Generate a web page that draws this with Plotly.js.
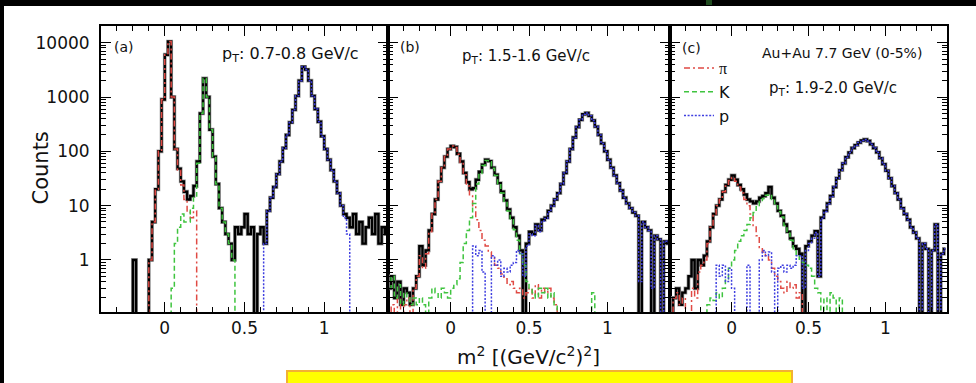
<!DOCTYPE html>
<html>
<head>
<meta charset="utf-8">
<script src="https://cdn.plot.ly/plotly-3.0.1.min.js"></script>
<style>html,body{margin:0;padding:0;background:#fff;}#chart{width:976px;height:383px;}</style>
</head>
<body>
<div id="chart"></div>
<script>
// m^2 histogram binning (GeV/c^2)^2
const BIN_FIRST_CENTER = -0.39;
const BIN_WIDTH = 0.02;
const N_BINS = 90;

// Panel (a): pT 0.7-0.8 GeV/c
const aCounts = [
  0,0,0,0,0,0,0,0,0,0,
  1,0,0,0,0,1,5,20,100,900,
  6000,10500,1000,110,48,28,18,13,15,23,
  65,500,2200,1000,250,80,25,9,5,3,
  2,1,4,3,4,7,3,4,0,3,
  4,2,8,14,22,38,65,115,200,340,
  580,1050,2000,3600,3200,2000,1050,600,350,190,
  110,70,45,28,17,10,7,6,4,7,
  3,5,2,4,6,3,7,2,4,3];
const aPi = [
  0,0,0,0,0,0,0,0,0,0,
  0,0,0,0,0,1,5,20,100,900,
  6000,10500,1000,110,45,24,13,8,6,8,
  0,0,0,0,0,0,0,0,0,0,
  0,0,0,0,0,0,0,0,0,0,
  0,0,0,0,0,0,0,0,0,0,
  0,0,0,0,0,0,0,0,0,0,
  0,0,0,0,0,0,0,0,0,0,
  0,0,0,0,0,0,0,0,0,0];
const aK = [
  0,0,0,0,0,0,0,0,0,0,
  0,0,0,0,0,0,0,0,0,0,
  0,0,0.3,2,4,7,5,5,9,15,
  60,500,2200,1000,250,80,25,9,5,3,
  2,1,0,0,0,0,0,0,0,0,
  0,0,0,0,0,0,0,0,0,0,
  0,0,0,0,0,0,0,0,0,0,
  0,0,0,0,0,0,0,0,0,0,
  0,0,0,0,0,0,0,0,0,0];
const aP = [
  0,0,0,0,0,0,0,0,0,0,
  0,0,0,0,0,0,0,0,0,0,
  0,0,0,0,0,0,0,0,0,0,
  0,0,0,0,0,0,0,0,0,0,
  0,0,0,0,0,0,0,0,0,0,
  0,2,8,14,22,38,65,115,200,340,
  580,1050,2000,3600,3200,2000,1050,600,350,190,
  110,70,45,28,17,10,6,3,0,0,
  0,0,0,0,0,0,0,0,0,0];

// Panel (b): pT 1.5-1.6 GeV/c
const bCounts = [
  0.3,0.5,0.2,0.4,0.15,0.3,0.25,0.15,0.3,0.5,
  1.8,0.8,1.5,3.5,7,13,28,50,80,110,
  125,120,90,65,40,27,20,21,30,42,
  57,70,66,50,37,26,18,12.5,8.5,6,
  4,2.8,1.5,0,2,3.3,3,4.5,3.5,5.5,
  6,8,10,13,17,25,40,65,110,180,
  280,380,480,510,450,370,285,200,140,100,
  70,50,36,26,19,14,11,9,7.5,6.5,
  0,5,4,3.5,0,2.8,2.4,0,2.2,2];
const bPi = [
  0,0.15,0,0.2,0,0.15,0.2,0,0.3,0.5,
  1.2,0.7,1.3,3.3,7,13,28,50,80,110,
  125,118,88,62,37,23,15,10,5.5,3.5,
  2.3,1.8,1.4,1.1,0.8,0.7,0.55,0.45,0.35,0.4,
  0.3,0.25,0.3,0.2,0.25,0.3,0.2,0.35,0.2,0.3,
  0.25,0.3,0.2,0.15,0,0,0,0,0,0,
  0,0,0,0,0,0,0,0,0,0,
  0,0,0,0,0,0,0,0,0,0,
  0,0,0,0,0,0,0,0,0,0];
const bK = [
  0.3,0.5,0.2,0.35,0.15,0.25,0.2,0.15,0.2,0.15,
  0.2,0.15,0,0.2,0.3,0.25,0.2,0.3,0.25,0.2,
  0.3,0.35,0.45,0.9,2,3.5,6,11,25,39,
  55,68,64,49,36,25,17,12,8,5.5,
  3.6,2.3,1.3,0.8,0.4,0.3,0.25,0.2,0.3,0.25,
  0.3,0.2,0.25,0.15,0,0,0,0,0,0,
  0,0,0,0,0,0.25,0,0,0,0,
  0,0,0,0,0,0,0,0,0,0,
  0,0,0,0,0,0,0,0,0,0];
const bP = [
  0,0,0,0,0,0,0,0,0,0,
  0,0,0,0,0,0,0,0,0,0,
  0,0,0,0,0,0,0,1.8,1.2,1.5,
  0.6,0,0,1.2,0.8,1,0.5,0.7,0.6,0.8,
  0.9,1.5,1.3,0.5,1.8,3,2.8,4.3,3.3,5.2,
  5.8,7.7,9.8,12.8,17,25,40,65,110,180,
  280,380,480,510,450,370,285,200,140,100,
  70,50,36,26,19,14,11,9,7.5,6.5,
  0.4,5,4,3.5,0.3,2.8,2.4,0,2.2,2];

// Panel (c): pT 1.9-2.0 GeV/c
const cCounts = [
  0,0.2,0.3,0.15,0.25,0.3,0.5,1,0.3,1,
  0.8,1.2,2.2,4,7,10,13,18,24,30,
  36,30,24,20,16,13,12,11,12,14,
  15,17,22,14,11,8,6.5,4.5,3.3,2.5,
  1.8,1.6,1.3,0,1.8,2.2,2.8,3.4,0.5,6,
  8,11,15,22,32,45,60,78,95,115,
  130,145,158,165,155,135,115,96,75,58,
  44,32,23,17,13,9,7,5.5,4,3.2,
  2.5,0,2,1.6,0,1.5,4.5,0,1.3,1.6];
const cPi = [
  0,0.2,0.25,0.15,0.2,0,0,0.3,0.2,0.6,
  0.8,1,2,4,7,10,13,18,23,29,
  33,28,22,17,13,10,7,4.3,2.8,1.7,
  1.4,1.2,1,0.7,0.5,0.4,0.3,0.25,0.4,0.3,
  0.35,0.2,0.25,0,0,0,0,0,0,0,
  0,0,0,0,0,0,0,0,0,0,
  0,0,0,0,0,0,0,0,0,0,
  0,0,0,0,0,0,0,0,0,0,
  0,0,0,0,0,0,0,0,0,0];
const cK = [
  0,0,0,0,0,0,0,0,0,0,
  0,0,0.15,0.2,0.18,0.25,0.2,0.3,0.45,0.7,
  1,1.5,2.2,2.8,3.5,4.5,6,7.5,9.5,12,
  13.5,15.5,16,13,10,7.8,6.2,4.3,3.1,2.3,
  1.6,1.2,1,0.9,0.8,0.7,0.5,0.3,0.25,0,
  0.2,0,0.25,0.2,0,0.2,0,0,0,0,
  0,0,0,0,0,0,0,0,0,0,
  0,0,0,0,0,0,0,0,0,0,
  0,0,0,0,0,0,0,0,0,0];
const cP = [
  0,0,0,0,0,0,0,0,0,0,
  0,0,0,0,0,0.8,0.5,0.8,0.4,0.7,
  0.3,0,0,0,0,0.8,0,0,0,1,
  1.5,1.2,1.4,0.6,0,0.7,0.8,0.6,0.8,0.7,
  0.8,1.2,1.2,0.3,1.5,2,2.5,3.2,0.5,5.8,
  7.8,10.8,14.8,22,32,45,60,78,95,115,
  130,145,158,165,155,135,115,96,75,58,
  44,32,23,17,13,9,7,5.5,4,3.2,
  2.5,0,2,1.6,0,1.5,4.5,0,1.3,1.6];

const panelLabels = ['(a)', '(b)', '(c)'];
const ptLabels = ['p<sub>T</sub>: 0.7-0.8 GeV/c', 'p<sub>T</sub>: 1.5-1.6 GeV/c', 'p<sub>T</sub>: 1.9-2.0 GeV/c'];
const speciesNames = ['<span style="font-family:Liberation Serif">π</span>', 'K', 'p'];
const systemLabel = 'Au+Au 7.7 GeV (0-5%)';
const yTickVals = [1, 10, 100, 1000, 10000];

// ---------- drawing ----------
const FONT = 'DejaVu Sans, Verdana, sans-serif';
const W = 976, H = 383;
const px = v => v / W, py = v => 1 - v / H;
const EMPTY = 1e-3; // empty bins drawn below the visible floor of the log axis
const centers = Array.from({length: N_BINS}, (_, i) => +(BIN_FIRST_CENTER + i * BIN_WIDTH).toFixed(3));
const vis = arr => arr.map(v => (v > 0 ? v : EMPTY));

const panels = [
  {counts: aCounts, fits: [aPi, aK, aP]},
  {counts: bCounts, fits: [bPi, bK, bP]},
  {counts: cCounts, fits: [cPi, cK, cP]}
];
const fitStyles = [
  {color: '#e04a44', dash: '6px,3px,2px,3px'},
  {color: '#3fc43f', dash: '5px,3px'},
  {color: '#3f3fe0', dash: '2px,1.6px'}
];
const xDomains = [[101, 388], [388, 670], [670, 947]];
const yDomain = [py(312), py(26)];

const traces = [];
panels.forEach((pn, k) => {
  const xa = k === 0 ? 'x' : 'x' + (k + 1);
  const ya = k === 0 ? 'y' : 'y' + (k + 1);
  traces.push({x: centers, y: vis(pn.counts), xaxis: xa, yaxis: ya, type: 'scatter', mode: 'lines',
    line: {shape: 'hvh', color: '#a0a0a0', width: 3.8}, showlegend: false, hoverinfo: 'skip'});
  traces.push({x: centers, y: vis(pn.counts), xaxis: xa, yaxis: ya, type: 'scatter', mode: 'lines',
    line: {shape: 'hvh', color: '#000', width: 2.4}, showlegend: false});
  pn.fits.forEach((f, j) => {
    traces.push({x: centers, y: vis(f), xaxis: xa, yaxis: ya, type: 'scatter', mode: 'lines',
      name: speciesNames[j],
      line: {shape: 'hvh', color: fitStyles[j].color, width: 1.5, dash: fitStyles[j].dash},
      showlegend: k === 2});
  });
});

const layout = {
  width: W, height: H, autosize: false,
  margin: {l: 0, r: 0, t: 0, b: 0, pad: 0},
  paper_bgcolor: '#fff', plot_bgcolor: '#fff',
  font: {family: FONT, color: '#111', size: 17},
  showlegend: true,
  legend: {x: px(679), y: py(51), xanchor: 'left', yanchor: 'top', bgcolor: 'rgba(0,0,0,0)',
    borderwidth: 0, font: {family: FONT, size: 16, color: '#111'}, itemwidth: 30, tracegroupgap: 0},
  annotations: [],
  shapes: [
    {type: 'rect', xref: 'paper', yref: 'paper', x0: 0, x1: px(4), y0: 0, y1: 1, fillcolor: '#000', line: {width: 0}, layer: 'above'},
    {type: 'rect', xref: 'paper', yref: 'paper', x0: 0, x1: 1, y0: py(6), y1: 1, fillcolor: '#000', line: {width: 0}, layer: 'above'},
    {type: 'rect', xref: 'paper', yref: 'paper', x0: px(706), x1: px(712), y0: py(5), y1: 1, fillcolor: '#1e4a1e', line: {width: 0}, layer: 'above'},
    {type: 'rect', xref: 'paper', yref: 'paper', x0: px(287), x1: px(792), y0: -0.05, y1: py(371), fillcolor: '#ffff00', line: {color: '#f2b134', width: 2}, layer: 'above'}
  ]
};

xDomains.forEach((d, k) => {
  const xk = k === 0 ? 'xaxis' : 'xaxis' + (k + 1);
  const yk = k === 0 ? 'yaxis' : 'yaxis' + (k + 1);
  layout[xk] = {
    domain: [px(d[0]), px(d[1])], range: [-0.4, 1.4], anchor: k === 0 ? 'y' : 'y' + (k + 1),
    showline: true, linewidth: 2, linecolor: '#000', mirror: 'allticks',
    ticks: 'inside', ticklen: 10, tickwidth: 1, tickcolor: '#000',
    tick0: 0, dtick: 0.5, showgrid: false, zeroline: false,
    minor: {ticks: 'inside', ticklen: 5, tickwidth: 1, tickcolor: '#000', dtick: 0.1, showgrid: false},
    tickfont: {family: FONT, size: 17, color: '#111'}, fixedrange: true
  };
  layout[yk] = {
    domain: yDomain, type: 'log', range: [-0.958, 4.307], anchor: k === 0 ? 'x' : 'x' + (k + 1),
    showline: true, linewidth: 2, linecolor: '#000', mirror: 'allticks',
    ticks: 'inside', ticklen: 10, tickwidth: 1, tickcolor: '#000',
    tickmode: 'array', tickvals: yTickVals, ticktext: yTickVals.map(String),
    showgrid: false, zeroline: false,
    minor: {ticks: 'inside', ticklen: 5, tickwidth: 1, tickcolor: '#000', dtick: 'D1', showgrid: false},
    showticklabels: k === 0, ticklabelstandoff: 6,
    tickfont: {family: FONT, size: 17, color: '#111'}, fixedrange: true
  };
});

const ann = (text, x, y, size, extra) => Object.assign({
  text: text, xref: 'paper', yref: 'paper', x: px(x), y: py(y), showarrow: false,
  xanchor: 'left', yanchor: 'middle', font: {family: FONT, size: size, color: '#111'}
}, extra || {});

layout.annotations.push(ann(panelLabels[0], 124, 47, 14, {xanchor: 'center'}));
layout.annotations.push(ann(panelLabels[1], 409.5, 47, 14, {xanchor: 'center'}));
layout.annotations.push(ann(panelLabels[2], 691, 48, 14, {xanchor: 'center'}));
layout.annotations.push(ann(ptLabels[0], 220, 55, 16));
layout.annotations.push(ann(ptLabels[1], 460, 57, 15));
layout.annotations.push(ann(ptLabels[2], 767, 89, 15));
layout.annotations.push(ann(systemLabel, 760, 53, 14));
layout.annotations.push(ann('Counts', 40, 168.5, 21, {xanchor: 'center', textangle: -90}));
layout.annotations.push(ann('m<sup>2</sup> [(GeV/c<sup>2</sup>)<sup>2</sup>]', 528, 356, 20, {xanchor: 'center'}));

Plotly.newPlot('chart', traces, layout, {staticPlot: true, displayModeBar: false});
</script>
</body>
</html>
